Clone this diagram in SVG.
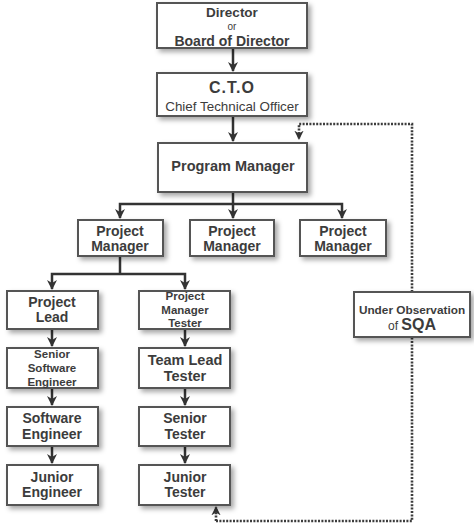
<svg xmlns="http://www.w3.org/2000/svg" width="474" height="529" viewBox="0 0 474 529">
<defs>
<filter id="sh" x="-20%" y="-30%" width="150%" height="170%">
<feDropShadow dx="3" dy="3" stdDeviation="2.5" flood-color="#000" flood-opacity="0.35"/>
</filter>
<marker id="ah" viewBox="0 0 10 10" refX="9" refY="5" markerWidth="4" markerHeight="4" orient="auto" markerUnits="strokeWidth">
<path d="M0,0 L10,5 L0,10 L3,5 z" fill="#333"/>
</marker>
<marker id="ahd" viewBox="0 0 10 10" refX="9" refY="5" markerWidth="3.6" markerHeight="3.6" orient="auto" markerUnits="strokeWidth">
<path d="M0,0 L10,5 L0,10 L3,5 z" fill="#333"/>
</marker>
</defs>
<style>
.box{fill:#fff;stroke:#555;stroke-width:2;filter:url(#sh)}
text{font-family:"Liberation Sans",Arial,sans-serif;fill:#3c3c3c;text-anchor:middle;font-weight:bold}
.n{font-weight:normal}
.c{fill:none;stroke:#333;stroke-width:2.5}
.d{fill:none;stroke:#3c3c3c;stroke-width:2.6;stroke-dasharray:2 1.4}
</style>
<rect width="474" height="529" fill="#fff"/>
<g id="connectors">
<line class="c" x1="233" y1="48" x2="233" y2="71" marker-end="url(#ah)"/>
<line class="c" x1="233" y1="116" x2="233" y2="141" marker-end="url(#ah)"/>
<line class="c" x1="233" y1="192" x2="233" y2="218" marker-end="url(#ah)"/>
<path class="c" d="M233,204 H120 V218" marker-end="url(#ah)"/>
<path class="c" d="M233,204 H342 V218" marker-end="url(#ah)"/>
<line class="c" x1="120" y1="256" x2="120" y2="274"/>
<path class="c" d="M120,274 H52 V289" marker-end="url(#ah)"/>
<path class="c" d="M120,274 H185 V289" marker-end="url(#ah)"/>
<line class="c" x1="52" y1="329" x2="52" y2="346" marker-end="url(#ah)"/>
<line class="c" x1="52" y1="388" x2="52" y2="405" marker-end="url(#ah)"/>
<line class="c" x1="52" y1="446" x2="52" y2="463" marker-end="url(#ah)"/>
<line class="c" x1="185" y1="329" x2="185" y2="346" marker-end="url(#ah)"/>
<line class="c" x1="185" y1="388" x2="185" y2="405" marker-end="url(#ah)"/>
<line class="c" x1="185" y1="446" x2="185" y2="463" marker-end="url(#ah)"/>
<path class="d" d="M216,521 H412 V124 H299 V139" marker-end="url(#ahd)"/>
<path class="d" d="M216,521 V507" marker-end="url(#ahd)"/>
</g>
<g id="director">
<rect class="box" x="157" y="3" width="150" height="45"/>
<text x="232" y="17" font-size="13.5">Director</text>
<text x="232" y="30" font-size="10" class="n">or</text>
<text x="232" y="46" font-size="14">Board of Director</text>
</g>
<g id="cto">
<rect class="box" x="157" y="73" width="150" height="43"/>
<text x="232" y="93" font-size="16" letter-spacing="1">C.T.O</text>
<text x="232" y="111" font-size="13.4" class="n">Chief Technical Officer</text>
</g>
<g id="program-manager">
<rect class="box" x="158" y="143" width="149" height="49"/>
<text x="233" y="171" font-size="14.5">Program Manager</text>
</g>
<g id="pm1">
<rect class="box" x="78" y="220" width="85" height="36"/>
<text x="120" y="236" font-size="14">Project</text>
<text x="120" y="251" font-size="14">Manager</text>
</g>
<g id="pm2">
<rect class="box" x="190" y="220" width="84" height="36"/>
<text x="232" y="236" font-size="14">Project</text>
<text x="232" y="251" font-size="14">Manager</text>
</g>
<g id="pm3">
<rect class="box" x="300" y="220" width="86" height="36"/>
<text x="343" y="236" font-size="14">Project</text>
<text x="343" y="251" font-size="14">Manager</text>
</g>
<g id="project-lead">
<rect class="box" x="7" y="291" width="91" height="38"/>
<text x="52" y="307" font-size="14">Project</text>
<text x="52" y="322" font-size="14">Lead</text>
</g>
<g id="pm-tester">
<rect class="box" x="139" y="291" width="91" height="38"/>
<text x="185" y="300" font-size="11.5">Project</text>
<text x="185" y="313.5" font-size="11.5">Manager</text>
<text x="185" y="327" font-size="11.5">Tester</text>
</g>
<g id="senior-se">
<rect class="box" x="7" y="348" width="91" height="40"/>
<text x="52" y="358" font-size="11.5">Senior</text>
<text x="52" y="372" font-size="11.5">Software</text>
<text x="52" y="386" font-size="11.5">Engineer</text>
</g>
<g id="team-lead-tester">
<rect class="box" x="139" y="348" width="91" height="40"/>
<text x="185" y="365" font-size="14.5">Team Lead</text>
<text x="185" y="381" font-size="14.5">Tester</text>
</g>
<g id="software-engineer">
<rect class="box" x="7" y="407" width="91" height="39"/>
<text x="52" y="423" font-size="14">Software</text>
<text x="52" y="439" font-size="14">Engineer</text>
</g>
<g id="senior-tester">
<rect class="box" x="139" y="407" width="91" height="39"/>
<text x="185" y="423" font-size="14">Senior</text>
<text x="185" y="439" font-size="14">Tester</text>
</g>
<g id="junior-engineer">
<rect class="box" x="7" y="465" width="91" height="40"/>
<text x="52" y="482" font-size="14">Junior</text>
<text x="52" y="497" font-size="14">Engineer</text>
</g>
<g id="junior-tester">
<rect class="box" x="139" y="465" width="91" height="40"/>
<text x="185" y="482" font-size="14">Junior</text>
<text x="185" y="497" font-size="14">Tester</text>
</g>
<g id="sqa">
<rect class="box" x="354" y="292" width="116" height="45"/>
<text x="412" y="314" font-size="11.8">Under Observation</text>
<text x="412" y="330"><tspan font-size="12" class="n">of </tspan><tspan font-size="16">SQA</tspan></text>
</g>
</svg>
